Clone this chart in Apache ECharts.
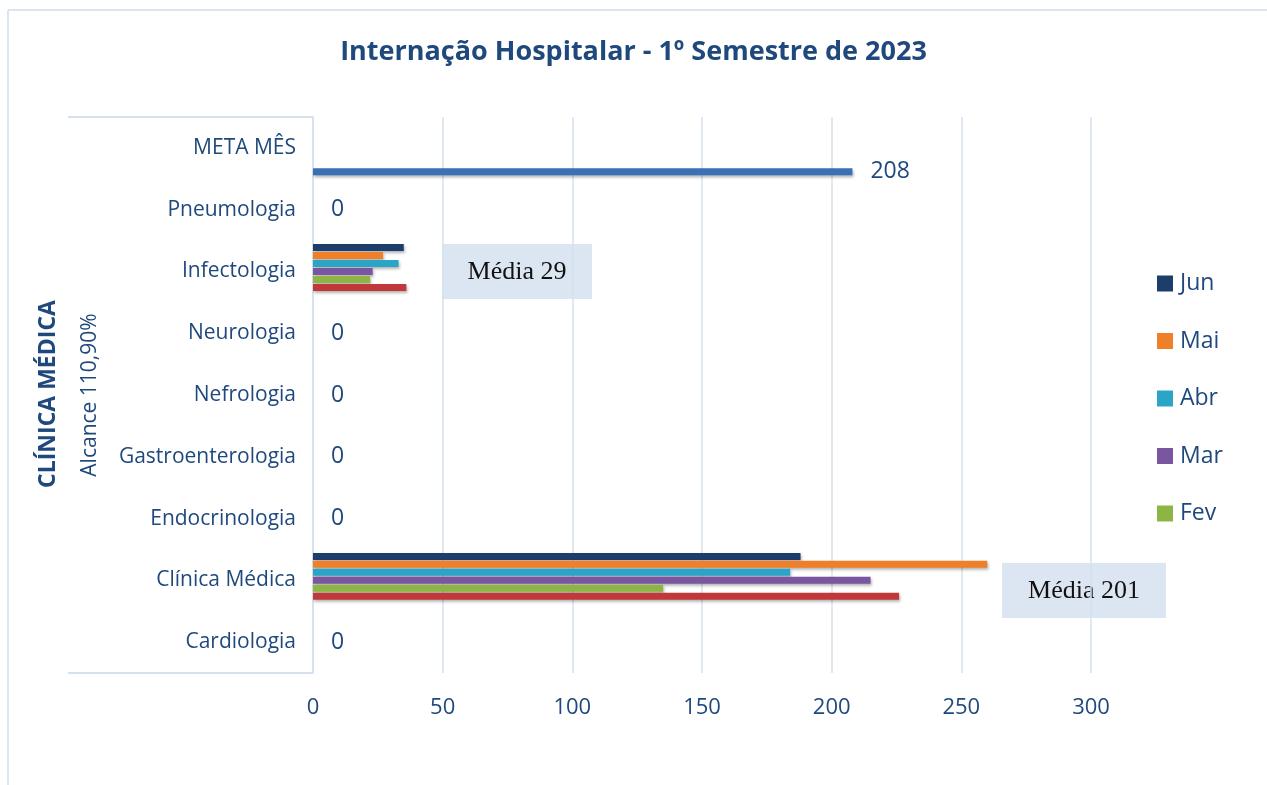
<!DOCTYPE html>
<html>
<head>
<meta charset="utf-8">
<title>Internação Hospitalar</title>
<script src="https://cdn.jsdelivr.net/npm/echarts@6/dist/echarts.min.js"></script>
<style>
  html, body { margin: 0; padding: 0; background: #fff; }
  #chart { width: 1267px; height: 785px; }
</style>
</head>
<body>
<div id="chart"></div>
<script>
// categorias (de baixo para cima)
const categorias = ['Cardiologia', 'Clínica Médica', 'Endocrinologia', 'Gastroenterologia',
  'Nefrologia', 'Neurologia', 'Infectologia', 'Pneumologia', 'META MÊS'];
// valores por mês
const jan = [0, 226, 0, 0, 0, 0, 36, 0, '-'];
const fev = [0, 135, 0, 0, 0, 0, 22, 0, '-'];
const mar = [0, 215, 0, 0, 0, 0, 23, 0, '-'];
const abr = [0, 184, 0, 0, 0, 0, 33, 0, '-'];
const mai = [0, 260, 0, 0, 0, 0, 27, 0, '-'];
const jun = [0, 188, 0, 0, 0, 0, 35, 0, '-'];
const meta = ['-', '-', '-', '-', '-', '-', '-', '-', 208];
const eixoX = [0, 50, 100, 150, 200, 250, 300];
const legendaMeses = ['Jun', 'Mai', 'Abr', 'Mar', 'Fev'];

const azul = '#1f497d';
const chart = echarts.init(document.getElementById('chart'));

const sombra = {
  shadowBlur: 3,
  shadowOffsetX: 1,
  shadowOffsetY: 2,
  shadowColor: 'rgba(0,0,0,0.3)'
};

function serie(nome, dados, cor, label) {
  return {
    name: nome,
    type: 'bar',
    data: dados,
    barWidth: 7,
    barGap: '14%',
    itemStyle: Object.assign({ color: cor }, sombra),
    label: label || { show: false },
    emphasis: { disabled: true }
  };
}

const option = {
  backgroundColor: '#fff',
  animation: false,
  title: {
    text: 'Internação Hospitalar - 1º Semestre de 2023',
    left: 'center',
    top: 34,
    textStyle: { fontFamily: 'Open Sans', fontWeight: 'bold', fontSize: 27, color: azul }
  },
  legend: {
    data: legendaMeses,
    orient: 'vertical',
    left: 1152,
    top: 267,
    itemWidth: 16,
    itemHeight: 16,
    itemGap: 34.5,
    icon: 'rect',
    textStyle: { fontFamily: 'Open Sans', fontSize: 23, color: azul, padding: [0, 0, 0, 2] }
  },
  grid: { left: 313, right: 176, top: 117, bottom: 112, containLabel: false },
  xAxis: {
    type: 'value',
    min: 0,
    max: 300,
    interval: 50,
    axisLine: { show: false },
    axisTick: { show: false },
    splitLine: { lineStyle: { color: '#d6e1ee', width: 1.5 } },
    axisLabel: {
      margin: 24,
      fontFamily: 'Open Sans',
      fontSize: 22,
      color: azul,
      formatter: v => eixoX.indexOf(v) >= 0 ? String(v) : ''
    }
  },
  yAxis: {
    type: 'category',
    data: categorias,
    axisTick: { show: false },
    axisLine: { show: true, lineStyle: { color: '#d6e1ee', width: 1.5 } },
    axisLabel: { margin: 17, fontFamily: 'Open Sans', fontSize: 21, color: azul, padding: [4, 0, 0, 0] }
  },
  // ordem de cima para baixo dentro de cada categoria
  series: [
    serie('Jun', jun, '#1d3d6b'),
    serie('Mai', mai, '#ef7f28'),
    serie('Abr', abr, '#2ba5c7'),
    serie('Mar', mar, '#7a55a0', {
      show: true, position: 'right', distance: 18,
      fontFamily: 'Open Sans', fontSize: 23, color: azul,
      formatter: p => p.value === 0 ? '0' : ''
    }),
    serie('Fev', fev, '#8cb545'),
    serie('Jan', jan, '#c0383a'),
    serie('Meta', meta, '#3a70b6', {
      show: true, position: 'right', distance: 18,
      fontFamily: 'Open Sans', fontSize: 23, color: azul
    })
  ],
  graphic: [
    // moldura externa
    { type: 'line', shape: { x1: 8, y1: 10, x2: 1267, y2: 10 }, style: { stroke: '#dbe5f1', lineWidth: 2 } },
    { type: 'line', shape: { x1: 8, y1: 10, x2: 8, y2: 785 }, style: { stroke: '#dbe5f1', lineWidth: 2 } },
    // caixa do grupo de categorias
    { type: 'line', shape: { x1: 68, y1: 117, x2: 313, y2: 117 }, style: { stroke: '#d6e1ee', lineWidth: 2 } },
    { type: 'line', shape: { x1: 68, y1: 673, x2: 313, y2: 673 }, style: { stroke: '#d6e1ee', lineWidth: 2 } },
    {
      type: 'text', x: 48, y: 394, rotation: Math.PI / 2,
      style: { text: 'CLÍNICA MÉDICA', fontFamily: 'Open Sans', fontWeight: 'bold', fontSize: 23,
        fill: azul, align: 'center', verticalAlign: 'middle' }
    },
    {
      type: 'text', x: 90, y: 395, rotation: Math.PI / 2,
      style: { text: 'Alcance 110,90%', fontFamily: 'Open Sans', fontSize: 21,
        fill: azul, align: 'center', verticalAlign: 'middle' }
    },
    // caixas de média
    { type: 'rect', shape: { x: 442, y: 244, width: 150, height: 55 }, style: { fill: '#dce6f2' } },
    {
      type: 'text', x: 517, y: 272,
      style: { text: 'Média 29', fontFamily: 'Liberation Serif', fontSize: 26, fill: '#111',
        align: 'center', verticalAlign: 'middle' }
    },
    { type: 'rect', shape: { x: 1002, y: 563, width: 164, height: 55 }, style: { fill: '#dce6f2' } },
    {
      type: 'text', x: 1084, y: 591,
      style: { text: 'Média 201', fontFamily: 'Liberation Serif', fontSize: 26, fill: '#111',
        align: 'center', verticalAlign: 'middle' }
    }
  ]
};

chart.setOption(option);
</script>
</body>
</html>
